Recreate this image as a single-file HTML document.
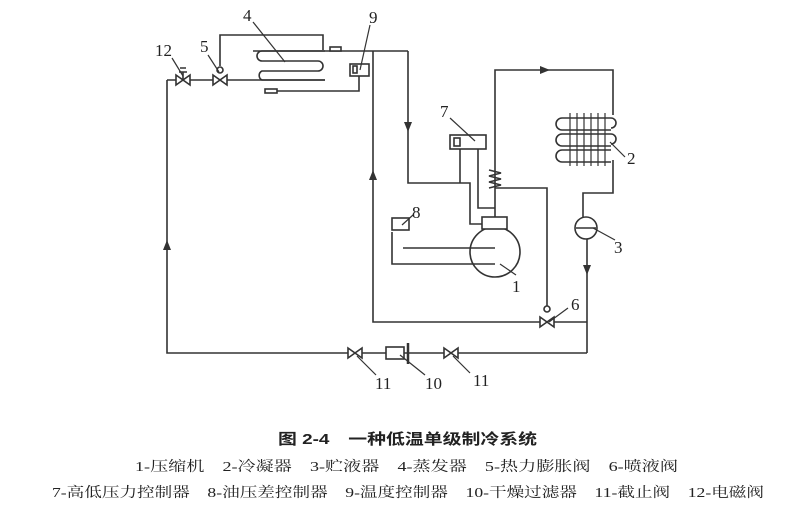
<!DOCTYPE html>
<html><head><meta charset="utf-8"><style>
html,body{margin:0;padding:0;background:#fff;}
svg{display:block;}
text{font-family:"Liberation Serif","Noto Serif CJK SC","Noto Sans CJK SC",serif;fill:#222;}
</style></head><body>
<svg width="799" height="507" viewBox="0 0 799 507" xmlns="http://www.w3.org/2000/svg">
<g stroke="#333" stroke-width="1.6" fill="none">
<polyline points="220,66 220,35 323,35 323,50"/>
<line x1="253" y1="51" x2="408" y2="51"/>
<rect x="330" y="47" width="11" height="4" fill="#fff"/>
<path d="M325,51 H262 A5,5 0 0 0 262,61 H318 A5,5 0 0 1 318,71 H262 A5,5 0 0 0 262,80 H325"/>
<line x1="167" y1="80" x2="325" y2="80"/>
<polyline points="167,80 167,353 587,353"/>
<rect x="350" y="64" width="19" height="12" fill="#fff"/>
<rect x="353" y="66" width="4" height="7"/>
<polyline points="359,76 359,91 277,91"/>
<rect x="265" y="89" width="12" height="4" fill="#fff"/>
<polyline points="373,51 373,322 587,322"/>
<polyline points="408,51 408,183 470,183 470,224 482,224"/>
<line x1="460" y1="183" x2="460" y2="149"/>
<rect x="450" y="135" width="36" height="14" fill="#fff"/>
<rect x="454" y="138" width="6" height="8"/>
<polyline points="478,149 478,208 495,208"/>
<circle cx="495" cy="252" r="25" fill="#fff"/>
<rect x="482" y="217" width="25" height="12" fill="#fff"/>
<line x1="403" y1="248" x2="495" y2="248"/>
<polyline points="392,232 392,264 495,264"/>
<rect x="392" y="218" width="17" height="12" fill="#fff"/>
<polyline points="495,217 495,70 613,70 613,115"/>
<path d="M489,170 L501,173 L489,176 L501,179 L489,182 L501,185 L489,188"/>
<polyline points="495,188 547,188 547,312"/>
<path d="M611,118 H562 A5,5 0 0 0 562,130 H611 M611,134 H562 A5,5 0 0 0 562,146 H611 M611,150 H562 A5,5 0 0 0 562,162 H611"/>
<path d="M611,118 A5,5 0 0 1 611,128 M611,134 A5,5 0 0 1 611,144"/>
<g stroke-width="1.2"><line x1="570" y1="113" x2="570" y2="166"/><line x1="577" y1="113" x2="577" y2="166"/><line x1="584" y1="113" x2="584" y2="166"/><line x1="591" y1="113" x2="591" y2="166"/><line x1="598" y1="113" x2="598" y2="166"/><line x1="605" y1="113" x2="605" y2="166"/></g>
<polyline points="613,160 613,193 583,193 583,217"/>
<circle cx="586" cy="228" r="11" fill="#fff"/>
<line x1="576" y1="228" x2="596" y2="228"/>
<polyline points="587,239 587,353"/>
<path d="M176,75 L176,85 L183,80 Z M190,75 L190,85 L183,80 Z" fill="#fff"/>
<path d="M183,80 V72 M179,72 H187 M180,68 L186,68" />
<path d="M213,75 L213,85 L220,80 Z M227,75 L227,85 L220,80 Z" fill="#fff"/>
<circle cx="220" cy="70" r="3" fill="#fff"/>
<path d="M540,317 L540,327 L547,322 Z M554,317 L554,327 L547,322 Z" fill="#fff"/>
<circle cx="547" cy="309" r="3" fill="#fff"/>
<path d="M348,348 L348,358 L355,353 Z M362,348 L362,358 L355,353 Z" fill="#fff"/>
<path d="M444,348 L444,358 L451,353 Z M458,348 L458,358 L451,353 Z" fill="#fff"/>
<rect x="386" y="347" width="18" height="12" fill="#fff"/>
<line x1="408" y1="343" x2="408" y2="364" stroke-width="2.5"/>
<g stroke-width="1.2">
<line x1="172" y1="58" x2="183" y2="76"/><line x1="208" y1="55" x2="219" y2="72"/>
<line x1="253" y1="22" x2="285" y2="62"/><line x1="370" y1="25" x2="360" y2="70"/>
<line x1="450" y1="118" x2="475" y2="141"/><line x1="413" y1="215" x2="402" y2="225"/>
<line x1="516" y1="275" x2="500" y2="264"/><line x1="625" y1="157" x2="610" y2="142"/>
<line x1="615" y1="240" x2="593" y2="228"/><line x1="568" y1="308" x2="549" y2="322"/>
<line x1="376" y1="375" x2="357" y2="356"/><line x1="425" y1="375" x2="400" y2="355"/>
<line x1="470" y1="373" x2="453" y2="356"/>
</g>
</g>
<g fill="#333">
<path d="M404,122 L412,122 L408,132 Z"/>
<path d="M369,180 L377,180 L373,170 Z"/>
<path d="M163,250 L171,250 L167,240 Z"/>
<path d="M540,66 L540,74 L550,70 Z"/>
<path d="M583,265 L591,265 L587,275 Z"/>
</g>
<g font-size="17">
<text x="155" y="56">12</text><text x="200" y="52">5</text><text x="243" y="21">4</text>
<text x="369" y="23">9</text><text x="440" y="117">7</text><text x="412" y="218">8</text>
<text x="512" y="292">1</text><text x="627" y="164">2</text><text x="614" y="253">3</text>
<text x="571" y="310">6</text><text x="375" y="389">11</text><text x="425" y="389">10</text>
<text x="473" y="386">11</text>
</g>
<text x="278" y="444" font-size="15" font-weight="bold" textLength="259" lengthAdjust="spacingAndGlyphs" style="font-family:'Liberation Sans','Noto Sans CJK SC',sans-serif">图 2-4　一种低温单级制冷系统</text>
<text x="135" y="471" font-size="14" textLength="543" lengthAdjust="spacingAndGlyphs">1-压缩机　2-冷凝器　3-贮液器　4-蒸发器　5-热力膨胀阀　6-喷液阀</text>
<text x="52" y="497" font-size="14" textLength="712" lengthAdjust="spacingAndGlyphs">7-高低压力控制器　8-油压差控制器　9-温度控制器　10-干燥过滤器　11-截止阀　12-电磁阀</text>
</svg>
</body></html>
